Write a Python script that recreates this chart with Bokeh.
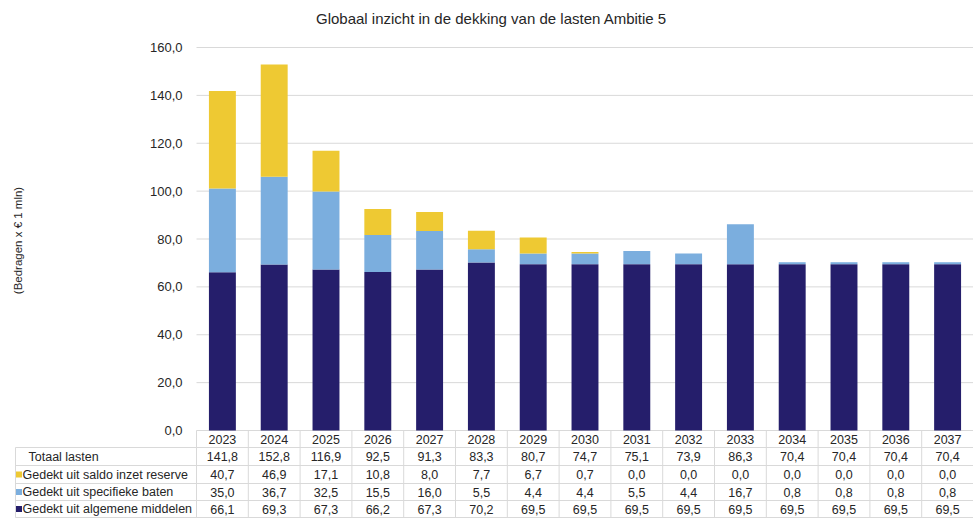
from math import pi
from bokeh.plotting import figure
from bokeh.models import ColumnDataSource, Range1d, FixedTicker, Label
from bokeh.core.properties import value
from bokeh.embed import file_html
from bokeh.resources import INLINE

# ---------------- data ----------------
years = ["2023", "2024", "2025", "2026", "2027", "2028", "2029", "2030",
         "2031", "2032", "2033", "2034", "2035", "2036", "2037"]
totaal_lasten = [141.8, 152.8, 116.9, 92.5, 91.3, 83.3, 80.7, 74.7,
                 75.1, 73.9, 86.3, 70.4, 70.4, 70.4, 70.4]
saldo_reserve = [40.7, 46.9, 17.1, 10.8, 8.0, 7.7, 6.7, 0.7,
                 0.0, 0.0, 0.0, 0.0, 0.0, 0.0, 0.0]
specifieke_baten = [35.0, 36.7, 32.5, 15.5, 16.0, 5.5, 4.4, 4.4,
                    5.5, 4.4, 16.7, 0.8, 0.8, 0.8, 0.8]
algemene_middelen = [66.1, 69.3, 67.3, 66.2, 67.3, 70.2, 69.5, 69.5,
                     69.5, 69.5, 69.5, 69.5, 69.5, 69.5, 69.5]
row_labels = ["Totaal lasten", "Gedekt uit saldo inzet reserve",
              "Gedekt uit specifieke baten", "Gedekt uit algemene middelen"]
y_ticks = [0, 20, 40, 60, 80, 100, 120, 140, 160]
y_tick_labels = ["0,0", "20,0", "40,0", "60,0", "80,0", "100,0", "120,0", "140,0", "160,0"]
title_text = "Globaal inzicht in de dekking van de lasten Ambitie 5"
y_title = "(Bedragen x € 1 mln)"

# ---------------- style ----------------
NAVY = "#251E6B"
BLUE = "#7BAEDE"
YELLOW = "#EEC933"
GRID = "#D9D9D9"
TXT = "#262626"
FONT = "Liberation Sans"

W, H = 973, 518
# layout helpers (canvas px -> data coordinates)
PLOT_LEFT = 196.0
COL_W = 777.0 / 15
Y_ZERO_PX = 430.0
Y_SCALE = 160.0 / (430.0 - 47.0)


def dx(px):
    return (px - PLOT_LEFT) / COL_W - 0.5


def dy(py):
    return (Y_ZERO_PX - py) * Y_SCALE


xs = list(range(len(years)))

p = figure(width=W, height=H, x_range=Range1d(dx(0), dx(W)), y_range=Range1d(dy(H), dy(0)),
           x_axis_location=None, title=None, output_backend="svg", toolbar_location=None,
           min_border_left=0, min_border_right=0, min_border_top=0, min_border_bottom=0)
p.outline_line_color = None
p.xgrid.visible = False
p.ygrid.visible = False

# y axis drawn at the left edge of the bar area
p.yaxis.fixed_location = -0.5
p.yaxis.ticker = FixedTicker(ticks=y_ticks)
p.yaxis.major_label_overrides = {t: l for t, l in zip(y_ticks, y_tick_labels)}
p.yaxis.axis_line_color = None
p.yaxis.major_tick_line_color = None
p.yaxis.minor_tick_line_color = None
p.yaxis.major_label_standoff = 8
p.yaxis.major_label_text_font = FONT
p.yaxis.major_label_text_font_size = "13px"
p.yaxis.major_label_text_color = TXT

# horizontal gridlines over the bar area
p.segment(x0=[-0.5] * len(y_ticks), y0=y_ticks, x1=[dx(W)] * len(y_ticks), y1=y_ticks,
          line_color=GRID, line_width=1)

src = ColumnDataSource(dict(x=xs, alg=algemene_middelen, spec=specifieke_baten, saldo=saldo_reserve))
p.vbar_stack(["alg", "spec", "saldo"], x="x", width=0.52, color=[NAVY, BLUE, YELLOW],
             line_color=None, source=src)

# ---------------- data table ----------------
row_bounds_px = [430, 447, 465, 483, 500, 517]
row_bounds = [dy(v) for v in row_bounds_px]
row_centers = [(row_bounds[i] + row_bounds[i + 1]) / 2 for i in range(5)]

vx = [i - 0.5 for i in range(len(years) + 1)]
p.segment(x0=vx, y0=[row_bounds[0]] * len(vx), x1=vx, y1=[row_bounds[-1]] * len(vx),
          line_color=GRID, line_width=1)
hy = row_bounds[1:]
p.segment(x0=[dx(15)] * len(hy), y0=hy, x1=[dx(W)] * len(hy), y1=hy, line_color=GRID, line_width=1)
p.segment(x0=[dx(15)], y0=[row_bounds[1]], x1=[dx(15)], y1=[row_bounds[-1]], line_color=GRID, line_width=1)


def fmt(v):
    return f"{v:.1f}".replace(".", ",")


tx, ty, tt = [], [], []
rows = [years, [fmt(v) for v in totaal_lasten], [fmt(v) for v in saldo_reserve],
        [fmt(v) for v in specifieke_baten], [fmt(v) for v in algemene_middelen]]
for r, vals in enumerate(rows):
    for i, v in enumerate(vals):
        tx.append(xs[i])
        ty.append(row_centers[r])
        tt.append(v)
p.text(x="x", y="y", text="t", source=ColumnDataSource(dict(x=tx, y=ty, t=tt)),
       text_align="center", text_baseline="middle", text_font_size=value("12.5px"),
       text_font=value(FONT), text_color=TXT)

# label column of the table
square_colors = [YELLOW, BLUE, NAVY]
p.scatter(x=[dx(18.5)] * 3, y=row_centers[2:], marker="square", size=6,
          color=square_colors, line_color=None)
for k, lab in enumerate(row_labels):
    yc = row_centers[k + 1]
    p.add_layout(Label(x=dx(28 if k == 0 else 22), y=yc, text=lab, text_align="left",
                       text_baseline="middle", text_font=FONT, text_font_size="12.5px",
                       text_color=TXT))

# title and y-axis title
p.add_layout(Label(x=dx(491), y=dy(18), text=title_text, text_align="center", text_baseline="middle",
                   text_font=FONT, text_font_size="15px", text_color=TXT))
p.add_layout(Label(x=dx(17), y=dy(240), text=y_title, angle=pi / 2, text_align="center",
                   text_baseline="middle", text_font=FONT, text_font_size="11.5px", text_color=TXT))

open("out.html", "w").write(file_html(p, INLINE))
